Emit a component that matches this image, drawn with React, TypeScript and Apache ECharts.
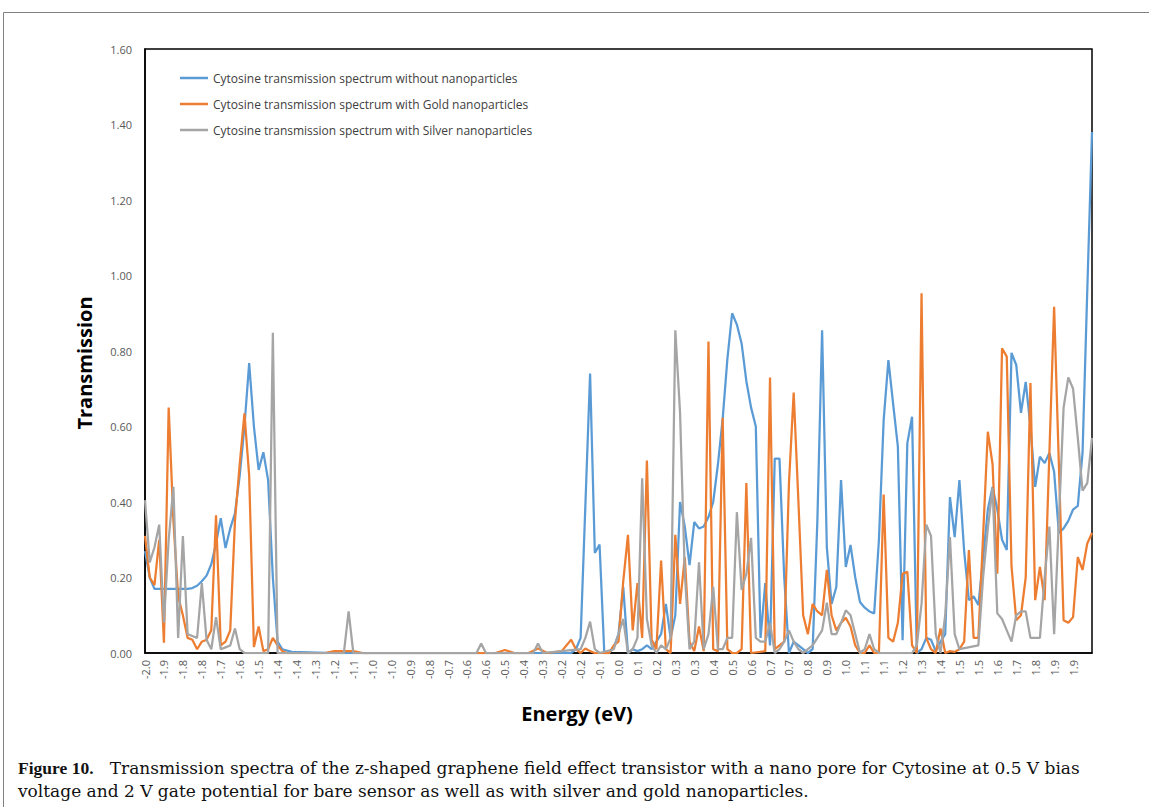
import React, { useEffect, useRef } from "react";
import * as echarts from "echarts";

// Energy tick labels (one every 0.08 eV step, as printed on the original axis)
const xTickLabels: string[] = [
  "-2.0", "-1.9", "-1.8", "-1.8", "-1.7", "-1.6", "-1.5", "-1.4", "-1.4", "-1.3",
  "-1.2", "-1.1", "-1.0", "-1.0", "-0.9", "-0.8", "-0.7", "-0.6", "-0.6", "-0.5",
  "-0.4", "-0.3", "-0.2", "-0.2", "-0.1", "0.0", "0.1", "0.2", "0.3", "0.3",
  "0.4", "0.5", "0.6", "0.7", "0.7", "0.8", "0.9", "1.0", "1.1", "1.1",
  "1.2", "1.3", "1.4", "1.5", "1.5", "1.6", "1.7", "1.8", "1.9", "1.9",
];

const seriesNames: string[] = [
  "Cytosine transmission spectrum without nanoparticles",
  "Cytosine transmission spectrum with Gold nanoparticles",
  "Cytosine transmission spectrum with Silver nanoparticles",
];

// [energy (eV), transmission]
const bare: [number, number][] = [
  [-2.0, 0.27], [-1.98, 0.2], [-1.96, 0.17], [-1.82, 0.17], [-1.8, 0.172], [-1.78, 0.178],
  [-1.76, 0.19], [-1.74, 0.205], [-1.72, 0.235], [-1.7, 0.29], [-1.68, 0.357], [-1.66, 0.278],
  [-1.64, 0.33], [-1.62, 0.37], [-1.6, 0.47], [-1.58, 0.6], [-1.56, 0.768], [-1.54, 0.6],
  [-1.52, 0.485], [-1.5, 0.532], [-1.48, 0.458], [-1.46, 0.2], [-1.44, 0.03], [-1.42, 0.01],
  [-1.38, 0.003], [-1.2, 0.0], [-0.2, 0.0], [-0.18, 0.01], [-0.16, 0.04], [-0.14, 0.39],
  [-0.12, 0.74], [-0.1, 0.265], [-0.08, 0.287], [-0.06, 0.0], [-0.04, 0.0], [-0.02, 0.015],
  [0.0, 0.05], [0.02, 0.175], [0.04, 0.0], [0.06, 0.01], [0.08, 0.005], [0.1, 0.01],
  [0.12, 0.02], [0.14, 0.01], [0.16, 0.03], [0.18, 0.05], [0.2, 0.13], [0.22, 0.04],
  [0.24, 0.1], [0.26, 0.4], [0.28, 0.335], [0.3, 0.233], [0.32, 0.347], [0.34, 0.33],
  [0.36, 0.335], [0.38, 0.36], [0.4, 0.4], [0.42, 0.5], [0.44, 0.62], [0.46, 0.78],
  [0.48, 0.9], [0.5, 0.87], [0.52, 0.82], [0.54, 0.72], [0.56, 0.65], [0.58, 0.6],
  [0.6, 0.04], [0.62, 0.185], [0.64, 0.02], [0.66, 0.515], [0.68, 0.515], [0.7, 0.2],
  [0.72, 0.0], [0.74, 0.03], [0.76, 0.02], [0.78, 0.01], [0.8, 0.0], [0.82, 0.01],
  [0.84, 0.35], [0.86, 0.855], [0.88, 0.28], [0.9, 0.13], [0.92, 0.175], [0.94, 0.458],
  [0.96, 0.228], [0.98, 0.286], [1.0, 0.2], [1.02, 0.135], [1.04, 0.12], [1.06, 0.11],
  [1.08, 0.105], [1.1, 0.3], [1.12, 0.617], [1.14, 0.776], [1.16, 0.66], [1.18, 0.547],
  [1.2, 0.034], [1.22, 0.556], [1.24, 0.626], [1.26, 0.0], [1.28, 0.01], [1.3, 0.04],
  [1.32, 0.035], [1.34, 0.005], [1.36, 0.03], [1.38, 0.05], [1.4, 0.413], [1.42, 0.307],
  [1.44, 0.458], [1.46, 0.27], [1.48, 0.14], [1.5, 0.15], [1.52, 0.127], [1.54, 0.25],
  [1.56, 0.38], [1.58, 0.44], [1.6, 0.38], [1.62, 0.3], [1.64, 0.273], [1.66, 0.795],
  [1.68, 0.763], [1.7, 0.636], [1.72, 0.718], [1.74, 0.6], [1.76, 0.44], [1.78, 0.52],
  [1.8, 0.503], [1.82, 0.53], [1.84, 0.48], [1.86, 0.318], [1.88, 0.33], [1.9, 0.35],
  [1.92, 0.38], [1.94, 0.39], [1.96, 0.53], [1.98, 0.96], [2.0, 1.38],
];

const gold: [number, number][] = [
  [-2.0, 0.31], [-1.98, 0.2], [-1.96, 0.18], [-1.94, 0.3], [-1.92, 0.027], [-1.9, 0.65],
  [-1.88, 0.35], [-1.86, 0.15], [-1.84, 0.1], [-1.82, 0.04], [-1.8, 0.035], [-1.78, 0.01],
  [-1.76, 0.03], [-1.74, 0.035], [-1.72, 0.06], [-1.7, 0.365], [-1.68, 0.02], [-1.66, 0.03],
  [-1.64, 0.06], [-1.62, 0.35], [-1.6, 0.5], [-1.58, 0.635], [-1.56, 0.47], [-1.54, 0.016],
  [-1.52, 0.07], [-1.5, 0.005], [-1.48, 0.01], [-1.46, 0.04], [-1.44, 0.02], [-1.42, 0.005],
  [-1.4, 0.0], [-1.24, 0.0], [-1.2, 0.005], [-1.12, 0.005], [-1.08, 0.0], [-0.52, 0.0],
  [-0.48, 0.008], [-0.44, 0.0], [-0.38, 0.0], [-0.34, 0.012], [-0.3, 0.0], [-0.24, 0.005],
  [-0.2, 0.035], [-0.18, 0.01], [-0.16, 0.0], [-0.14, 0.012], [-0.12, 0.005], [-0.1, 0.0],
  [-0.04, 0.0], [-0.02, 0.02], [0.0, 0.03], [0.02, 0.19], [0.04, 0.313], [0.06, 0.06],
  [0.08, 0.185], [0.1, 0.04], [0.12, 0.51], [0.14, 0.035], [0.16, 0.01], [0.18, 0.245],
  [0.2, 0.01], [0.22, 0.0], [0.24, 0.313], [0.26, 0.13], [0.28, 0.254], [0.3, 0.03],
  [0.32, 0.005], [0.34, 0.07], [0.36, 0.005], [0.38, 0.825], [0.4, 0.01], [0.42, 0.005],
  [0.44, 0.623], [0.46, 0.01], [0.48, 0.0], [0.5, 0.0], [0.52, 0.01], [0.54, 0.45],
  [0.56, 0.0], [0.62, 0.005], [0.64, 0.73], [0.66, 0.01], [0.68, 0.02], [0.7, 0.03],
  [0.72, 0.45], [0.74, 0.69], [0.76, 0.4], [0.78, 0.1], [0.8, 0.05], [0.82, 0.13],
  [0.84, 0.11], [0.86, 0.1], [0.88, 0.22], [0.9, 0.1], [0.92, 0.06], [0.94, 0.08],
  [0.96, 0.093], [0.98, 0.07], [1.0, 0.02], [1.02, 0.0], [1.04, 0.0], [1.06, 0.02],
  [1.08, 0.0], [1.1, 0.0], [1.12, 0.42], [1.14, 0.04], [1.16, 0.03], [1.18, 0.08],
  [1.2, 0.21], [1.22, 0.215], [1.24, 0.02], [1.26, 0.0], [1.28, 0.953], [1.3, 0.04],
  [1.32, 0.01], [1.34, 0.0], [1.36, 0.065], [1.38, 0.0], [1.4, 0.005], [1.42, 0.003],
  [1.44, 0.01], [1.46, 0.03], [1.48, 0.273], [1.5, 0.04], [1.52, 0.04], [1.54, 0.31],
  [1.56, 0.586], [1.58, 0.5], [1.6, 0.21], [1.62, 0.807], [1.64, 0.785], [1.66, 0.23],
  [1.68, 0.087], [1.7, 0.1], [1.72, 0.2], [1.74, 0.715], [1.76, 0.14], [1.78, 0.228],
  [1.8, 0.14], [1.82, 0.53], [1.84, 0.917], [1.86, 0.5], [1.88, 0.087], [1.9, 0.08],
  [1.92, 0.095], [1.94, 0.254], [1.96, 0.22], [1.98, 0.29], [2.0, 0.318],
];

const silver: [number, number][] = [
  [-2.0, 0.405], [-1.98, 0.24], [-1.96, 0.28], [-1.94, 0.34], [-1.92, 0.08], [-1.9, 0.3],
  [-1.88, 0.44], [-1.86, 0.04], [-1.84, 0.31], [-1.82, 0.05], [-1.8, 0.045], [-1.78, 0.04],
  [-1.76, 0.185], [-1.74, 0.035], [-1.72, 0.01], [-1.7, 0.095], [-1.68, 0.01], [-1.66, 0.015],
  [-1.64, 0.02], [-1.62, 0.065], [-1.6, 0.01], [-1.58, 0.0], [-1.48, 0.0], [-1.46, 0.848],
  [-1.44, 0.0], [-1.16, 0.0], [-1.14, 0.11], [-1.12, 0.0], [-0.6, 0.0], [-0.58, 0.025],
  [-0.56, 0.0], [-0.36, 0.0], [-0.34, 0.025], [-0.32, 0.0], [-0.24, 0.005], [-0.16, 0.01],
  [-0.14, 0.04], [-0.12, 0.083], [-0.1, 0.01], [-0.08, 0.0], [-0.02, 0.01], [0.0, 0.05],
  [0.02, 0.09], [0.04, 0.0], [0.06, 0.01], [0.08, 0.04], [0.1, 0.463], [0.12, 0.09],
  [0.14, 0.02], [0.16, 0.0], [0.18, 0.02], [0.2, 0.01], [0.22, 0.04], [0.24, 0.855],
  [0.26, 0.636], [0.28, 0.21], [0.3, 0.01], [0.32, 0.03], [0.34, 0.24], [0.36, 0.01],
  [0.38, 0.05], [0.4, 0.175], [0.42, 0.01], [0.44, 0.01], [0.46, 0.04], [0.48, 0.04],
  [0.5, 0.373], [0.52, 0.167], [0.54, 0.21], [0.56, 0.305], [0.58, 0.04], [0.6, 0.03],
  [0.62, 0.03], [0.64, 0.08], [0.66, 0.0], [0.68, 0.01], [0.7, 0.03], [0.72, 0.06],
  [0.74, 0.03], [0.76, 0.01], [0.78, 0.0], [0.8, 0.01], [0.82, 0.02], [0.84, 0.04],
  [0.86, 0.06], [0.88, 0.133], [0.9, 0.05], [0.92, 0.05], [0.94, 0.08], [0.96, 0.113],
  [0.98, 0.1], [1.0, 0.05], [1.02, 0.0], [1.04, 0.01], [1.06, 0.05], [1.08, 0.01],
  [1.1, 0.0], [1.24, 0.0], [1.26, 0.02], [1.28, 0.13], [1.3, 0.34], [1.32, 0.31],
  [1.34, 0.05], [1.36, 0.0], [1.38, 0.1], [1.4, 0.307], [1.42, 0.05], [1.44, 0.01],
  [1.52, 0.02], [1.54, 0.2], [1.56, 0.33], [1.58, 0.437], [1.6, 0.105], [1.62, 0.09],
  [1.64, 0.06], [1.66, 0.03], [1.68, 0.1], [1.7, 0.11], [1.72, 0.11], [1.74, 0.04],
  [1.76, 0.04], [1.78, 0.04], [1.8, 0.2], [1.82, 0.335], [1.84, 0.05], [1.86, 0.35],
  [1.88, 0.65], [1.9, 0.73], [1.92, 0.7], [1.94, 0.57], [1.96, 0.43], [1.98, 0.45],
  [2.0, 0.57],
];

const seriesColors = ["#5B9BD5", "#ED7D31", "#A5A5A5"];

export default function App() {
  const ref = useRef<HTMLDivElement>(null);

  useEffect(() => {
    if (!ref.current) return;
    const chart = echarts.init(ref.current, undefined, { renderer: "svg" });
    const font = "'Open Sans', sans-serif";
    const serifBody = "'DejaVu Serif', serif";
    const serifBold = "'Liberation Serif', 'Times New Roman', serif";
    const datasets = [bare, gold, silver];
    chart.setOption({
      animation: false,
      backgroundColor: "#ffffff",
      textStyle: { fontFamily: font },
      grid: {
        left: 145,
        top: 49,
        width: 947,
        height: 604,
        show: true,
        borderColor: "#000000",
        borderWidth: 1.5,
        backgroundColor: "transparent",
      },
      legend: {
        left: 175,
        top: 66,
        orient: "vertical",
        icon: "rect",
        itemWidth: 28,
        itemHeight: 2.5,
        itemGap: 12,
        textStyle: { fontSize: 12, lineHeight: 14, color: "#404040", fontFamily: font },
        data: seriesNames,
      },
      xAxis: {
        type: "value",
        min: -2,
        max: 2,
        interval: 0.08,
        axisLine: { show: true, onZero: false, lineStyle: { color: "#000000", width: 1.5 } },
        axisTick: { show: false },
        splitLine: { show: false },
        axisLabel: {
          rotate: 90,
          margin: 7,
          fontSize: 11,
          color: "#595959",
          fontFamily: font,
          showMaxLabel: true,
          formatter: (v: number) => {
            const idx = Math.round((v + 2) / 0.08);
            return idx >= 0 && idx < xTickLabels.length ? xTickLabels[idx] : "";
          },
        },
      },
      yAxis: {
        type: "value",
        min: 0,
        max: 1.6,
        interval: 0.2,
        axisLine: { show: true, onZero: false, lineStyle: { color: "#000000", width: 1.5 } },
        axisTick: { show: false },
        splitLine: { show: false },
        axisLabel: {
          margin: 13,
          fontSize: 11,
          color: "#595959",
          fontFamily: font,
          formatter: (v: number) => v.toFixed(2),
        },
      },
      series: datasets.map((d, k) => ({
        name: seriesNames[k],
        type: "line",
        data: d,
        symbol: "none",
        showSymbol: false,
        lineStyle: { color: seriesColors[k], width: 2.25 },
        itemStyle: { color: seriesColors[k] },
        z: 2 + k,
      })),
      graphic: [
        {
          type: "rect",
          shape: { x: 3.5, y: 12.5, width: 1170, height: 820 },
          style: { fill: "none", stroke: "#808080", lineWidth: 1 },
          silent: true,
        },
        {
          type: "text",
          x: 84,
          y: 363,
          rotation: Math.PI / 2,
          style: {
            text: "Transmission",
            fontSize: 20,
            fontWeight: "bold",
            fontFamily: font,
            fill: "#000000",
            align: "center",
            verticalAlign: "middle",
          },
        },
        {
          type: "text",
          x: 577,
          y: 713,
          style: {
            text: "Energy (eV)",
            fontSize: 20,
            fontWeight: "bold",
            fontFamily: font,
            fill: "#000000",
            align: "center",
            verticalAlign: "middle",
          },
        },
        {
          type: "text",
          x: 18,
          y: 768,
          style: {
            text:
              "{b|Figure 10.}   Transmission spectra of the z-shaped graphene field effect transistor with a nano pore for Cytosine at 0.5 V bias",
            fontSize: 17,
            fontFamily: serifBody,
            fill: "#111111",
            verticalAlign: "middle",
            rich: {
              b: {
                fontSize: 17.5,
                fontWeight: "bold",
                fontFamily: serifBold,
                fill: "#111111",
              },
            },
          },
        },
        {
          type: "text",
          x: 18,
          y: 791,
          style: {
            text:
              "voltage and 2 V gate potential for bare sensor as well as with silver and gold nanoparticles.",
            fontSize: 17,
            fontFamily: serifBody,
            fill: "#111111",
            verticalAlign: "middle",
          },
        },
      ],
    });
    return () => chart.dispose();
  }, []);

  return (
    <div
      ref={ref}
      style={{ position: "absolute", left: 0, top: 0, width: 1149, height: 807 }}
    />
  );
}
